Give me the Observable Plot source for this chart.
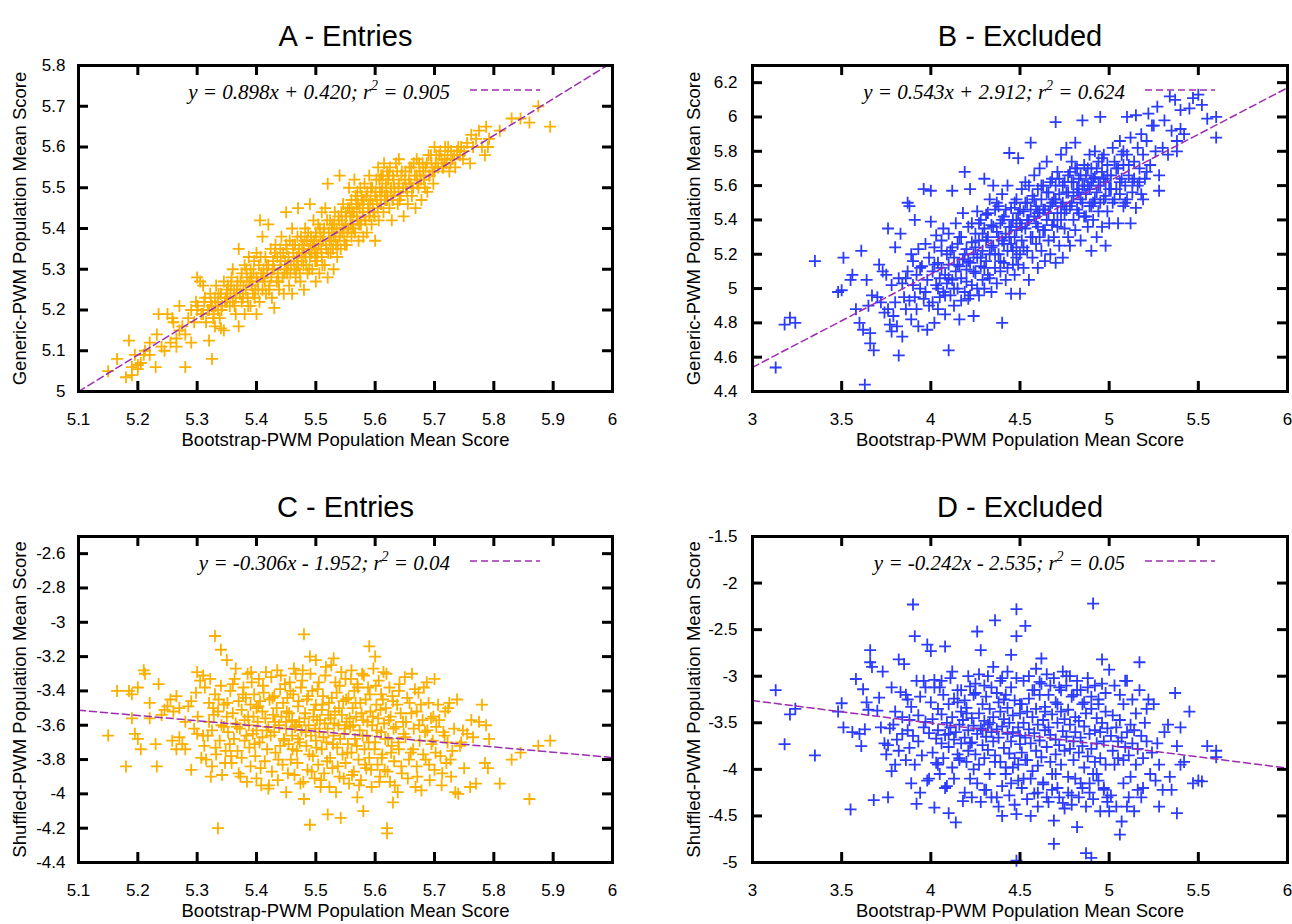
<!DOCTYPE html>
<html><head><meta charset="utf-8">
<script src="https://cdn.jsdelivr.net/npm/d3@7"></script>
<script src="https://cdn.jsdelivr.net/npm/@observablehq/plot@0.6"></script>
<style>
body{margin:0;background:#fff;}
#wrap{position:relative;width:1292px;height:924px;overflow:hidden;background:#fff;}
</style></head><body><div id="wrap"></div>
<script>
const titles = ["A - Entries", "B - Excluded", "C - Entries", "D - Excluded"];
const xLabel = "Bootstrap-PWM Population Mean Score";
const yLabels = ["Generic-PWM Population Mean Score", "Shuffled-PWM Population Mean Score"];
const entriesXTicks = [5.1, 5.2, 5.3, 5.4, 5.5, 5.6, 5.7, 5.8, 5.9, 6];
const excludedXTicks = [3, 3.5, 4, 4.5, 5, 5.5, 6];
const genericEntriesYTicks = [5, 5.1, 5.2, 5.3, 5.4, 5.5, 5.6, 5.7, 5.8];
const genericExcludedYTicks = [4.4, 4.6, 4.8, 5, 5.2, 5.4, 5.6, 5.8, 6, 6.2];
const shuffledEntriesYTicks = [-4.4, -4.2, -4, -3.8, -3.6, -3.4, -3.2, -3, -2.8, -2.6];
const shuffledExcludedYTicks = [-5, -4.5, -4, -3.5, -3, -2.5, -2, -1.5];
const fitSlopes = [0.898, 0.543, -0.306, -0.242];
const fitIntercepts = [0.420, 2.912, -1.952, -2.535];
const keyEquations = ["y = 0.898x + 0.420", "y = 0.543x + 2.912", "y = -0.306x - 1.952", "y = -0.242x - 2.535"];
const keyR2 = ["0.905", "0.624", "0.04", "0.05"];

// rows: [bootstrap mean, generic mean, shuffled mean]
const entriesPoints = [
[5.15,5.05,-3.66],[5.165,5.08,-3.40],[5.18,5.035,-3.84],[5.185,5.125,-3.40],[5.19,5.04,-3.56],[5.19,5.06,-3.42],[5.195,5.09,-3.65],[5.2,5.065,-3.38],[5.2,5.055,-3.68],[5.205,5.07,-3.74],[5.21,5.09,-3.28],[5.212,5.1,-3.30],[5.22,5.09,-3.47],[5.22,5.12,-3.56],[5.23,5.06,-3.71],[5.232,5.14,-3.84],[5.235,5.19,-3.36],[5.24,5.11,-3.54],[5.245,5.1,-3.51],[5.25,5.19,-3.49],[5.255,5.12,-3.45],[5.258,5.18,-3.69],
[5.26,5.17,-3.52],[5.265,5.13,-3.43],[5.265,5.11,-3.74],[5.27,5.15,-3.67],[5.27,5.21,-3.50],[5.275,5.16,-3.71],[5.28,5.06,-3.74],[5.28,5.14,-3.58],[5.285,5.18,-3.49],[5.29,5.12,-3.86],[5.29,5.2,-3.46],[5.295,5.17,-3.62],[5.298,5.22,-3.41],[5.3,5.2,-3.29],[5.3,5.28,-3.65],
[5.305,5.27,-3.34],[5.31,5.26,-3.31],[5.31,5.19,-3.66],[5.312,5.22,-3.72],[5.315,5.17,-3.80],[5.32,5.125,-3.47],[5.32,5.2,-3.58],[5.322,5.24,-3.33],[5.325,5.08,-3.84],[5.325,5.21,-3.63],[5.328,5.19,-3.54],[5.33,5.16,-3.42],[5.33,5.23,-3.08],[5.332,5.26,-3.77],[5.335,5.2,-4.2],[5.335,5.22,-3.52],[5.338,5.18,-3.69],[5.34,5.155,-3.16],[5.34,5.24,-3.37],[5.342,5.21,-3.89],[5.345,5.15,-3.61],[5.345,5.27,-3.48],[5.348,5.23,-3.75],[5.35,5.22,-3.22],[5.35,5.25,-3.55],
[5.352,5.26,-3.64],[5.355,5.21,-3.71],[5.356,5.24,-3.40],[5.358,5.28,-3.82],[5.36,5.22,-3.53],[5.36,5.3,-3.36],[5.362,5.25,-3.68],[5.365,5.23,-3.27],[5.365,5.19,-3.59],[5.368,5.27,-3.75],[5.37,5.16,-3.88],[5.37,5.35,-3.46],[5.372,5.24,-3.62],[5.375,5.29,-3.51],[5.375,5.22,-3.79],[5.378,5.26,-3.38],[5.38,5.19,-3.57],[5.38,5.31,-3.69],[5.382,5.25,-3.44],[5.384,5.28,-3.93],[5.385,5.23,-3.30],[5.387,5.33,-3.60],[5.388,5.27,-3.73],[5.39,5.21,-3.48],[5.39,5.3,-3.84],[5.392,5.26,-3.35],[5.394,5.24,-3.65],[5.395,5.29,-3.55],[5.396,5.32,-3.42],[5.398,5.25,-3.78],[5.4,5.19,-3.63],[5.4,5.28,-3.91],[5.4,5.34,-3.50],
[5.402,5.27,-3.58],[5.404,5.31,-3.33],[5.405,5.22,-3.70],[5.406,5.42,-3.46],[5.408,5.29,-3.95],[5.41,5.25,-3.52],[5.41,5.38,-3.67],[5.412,5.3,-3.41],[5.414,5.27,-3.81],[5.415,5.33,-3.56],[5.416,5.24,-3.29],[5.418,5.29,-3.74],[5.42,5.41,-3.61],[5.42,5.31,-3.97],[5.422,5.26,-3.45],[5.424,5.35,-3.66],[5.425,5.28,-3.32],[5.426,5.23,-3.87],[5.428,5.32,-3.54],[5.43,5.205,-3.64],[5.43,5.3,-3.43],[5.432,5.36,-3.76],[5.434,5.27,-3.50],[5.435,5.33,-3.28],[5.436,5.29,-3.92],[5.438,5.25,-3.60],[5.44,5.35,-3.39],[5.44,5.31,-3.72],[5.442,5.38,-3.55],[5.444,5.28,-3.83],[5.445,5.34,-3.47],[5.446,5.24,-3.68],[5.448,5.32,-3.36],[5.45,5.44,-3.58],[5.45,5.3,-3.99],[5.45,5.36,-3.62],
[5.452,5.29,-3.44],[5.454,5.33,-3.71],[5.455,5.26,-3.53],[5.456,5.37,-3.35],[5.458,5.31,-3.80],[5.46,5.4,-3.57],[5.46,5.24,-3.66],[5.462,5.34,-3.42],[5.464,5.3,-3.89],[5.465,5.36,-3.61],[5.466,5.28,-3.30],[5.468,5.33,-3.75],[5.47,5.45,-3.49],[5.47,5.31,-3.68],[5.472,5.35,-3.58],[5.474,5.27,-3.94],[5.475,5.38,-3.38],[5.476,5.32,-3.63],[5.478,5.36,-3.28],[5.48,5.25,-3.07],[5.48,5.34,-4.03],[5.482,5.4,-3.53],[5.484,5.31,-3.72],[5.485,5.37,-3.45],[5.486,5.29,-3.86],[5.488,5.35,-3.60],[5.49,5.46,-3.20],[5.49,5.33,-4.18],[5.492,5.38,-3.66],[5.494,5.3,-3.40],[5.495,5.36,-3.78],[5.496,5.42,-3.55],[5.498,5.34,-3.91],[5.5,5.27,-3.48],[5.5,5.39,-3.22],[5.5,5.35,-3.69],
[5.502,5.32,-3.57],[5.504,5.41,-3.83],[5.505,5.36,-3.35],[5.506,5.29,-3.64],[5.508,5.38,-3.96],[5.51,5.44,-3.51],[5.51,5.33,-3.74],[5.512,5.37,-3.43],[5.514,5.4,-3.88],[5.515,5.31,-3.59],[5.516,5.45,-3.31],[5.518,5.35,-3.70],[5.52,5.51,-3.62],[5.52,5.28,-4.12],[5.522,5.39,-3.47],[5.524,5.42,-3.79],[5.525,5.34,-3.56],[5.526,5.37,-3.25],[5.528,5.41,-3.85],[5.53,5.3,-3.21],[5.53,5.38,-3.66],[5.532,5.44,-3.52],[5.534,5.36,-3.99],[5.535,5.4,-3.41],[5.536,5.33,-3.73],[5.538,5.43,-3.60],[5.54,5.53,-3.37],[5.54,5.38,-3.90],[5.542,5.35,-4.14],[5.544,5.42,-3.54],[5.545,5.39,-3.77],[5.546,5.46,-3.46],[5.548,5.37,-3.65],[5.55,5.41,-3.33],[5.55,5.44,-3.82],
[5.552,5.36,-3.58],[5.554,5.45,-3.71],[5.555,5.4,-3.44],[5.556,5.5,-3.94],[5.558,5.43,-3.61],[5.56,5.38,-3.28],[5.56,5.47,-3.76],[5.562,5.41,-3.50],[5.564,5.44,-3.87],[5.565,5.52,-3.40],[5.566,5.39,-3.68],[5.568,5.46,-3.55],[5.57,5.49,-4.02],[5.57,5.42,-3.36],[5.572,5.37,-3.80],[5.574,5.45,-3.63],[5.575,5.5,-3.47],[5.576,5.41,-3.92],[5.578,5.47,-3.30],[5.58,5.38,-4.10],[5.58,5.44,-3.57],[5.582,5.51,-3.74],[5.584,5.42,-3.45],[5.585,5.48,-3.85],[5.586,5.39,-3.66],[5.588,5.45,-3.38],[5.59,5.53,-3.14],[5.59,5.43,-3.79],[5.592,5.47,-3.52],[5.594,5.41,-3.96],[5.595,5.5,-3.60],[5.597,5.44,-3.27],[5.6,5.37,-3.20],[5.6,5.48,-3.70],
[5.602,5.52,-3.48],[5.604,5.45,-3.83],[5.605,5.55,-3.56],[5.606,5.42,-3.34],[5.608,5.49,-3.90],[5.61,5.53,-3.64],[5.61,5.46,-3.42],[5.612,5.5,-3.77],[5.614,5.44,-3.29],[5.615,5.56,-3.59],[5.616,5.48,-3.86],[5.618,5.51,-3.50],[5.62,5.54,-4.20],[5.62,5.47,-4.23],[5.622,5.52,-3.68],[5.624,5.45,-3.38],[5.625,5.55,-3.93],[5.626,5.49,-3.55],[5.628,5.42,-3.72],[5.63,5.53,-4.05],[5.63,5.47,-3.46],[5.632,5.5,-3.81],[5.635,5.56,-3.61],[5.638,5.46,-3.99],[5.64,5.57,-3.40],[5.64,5.51,-3.74],[5.643,5.48,-3.53],[5.645,5.54,-3.88],[5.648,5.43,-3.65],[5.65,5.52,-3.32],
[5.652,5.5,-3.58],[5.655,5.46,-3.91],[5.658,5.55,-3.47],[5.66,5.51,-3.76],[5.662,5.48,-3.30],[5.665,5.56,-3.62],[5.668,5.45,-3.96],[5.67,5.53,-3.52],[5.67,5.57,-3.84],[5.673,5.5,-3.41],[5.675,5.54,-3.69],[5.678,5.47,-3.98],[5.68,5.56,-3.57],[5.682,5.52,-3.38],[5.685,5.55,-3.80],[5.688,5.49,-3.63],[5.69,5.58,-3.47],[5.692,5.53,-3.92],[5.695,5.56,-3.71],[5.698,5.51,-3.55],[5.7,5.6,-3.33],[5.7,5.54,-3.86],
[5.703,5.58,-3.61],[5.706,5.55,-3.48],[5.71,5.59,-3.78],[5.712,5.57,-3.95],[5.715,5.55,-3.64],[5.718,5.6,-3.52],[5.72,5.56,-3.82],[5.722,5.58,-3.70],[5.725,5.54,-3.47],[5.728,5.59,-3.90],[5.73,5.57,-3.75],[5.735,5.55,-3.99],[5.74,5.6,-4.00],[5.743,5.58,-3.72],[5.748,5.57,-3.63],[5.75,5.59,-3.85],
[5.755,5.61,-3.65],[5.76,5.56,-3.96],[5.762,5.63,-3.57],[5.765,5.6,-3.67],[5.77,5.62,-3.94],[5.775,5.64,-3.58],[5.78,5.6,-3.48],[5.785,5.58,-3.82],[5.787,5.65,-3.60],[5.79,5.6,-3.85],[5.792,5.62,-3.68],[5.81,5.64,-3.94],[5.83,5.67,-3.80],[5.845,5.67,-3.76],[5.86,5.66,-4.03],[5.875,5.7,-3.72],[5.895,5.65,-3.69],
[5.351,5.23,-3.47],[5.357,5.26,-3.78],[5.363,5.21,-3.33],[5.367,5.25,-3.61],[5.373,5.27,-3.9],[5.377,5.23,-3.42],[5.383,5.3,-3.66],[5.386,5.21,-3.55],[5.391,5.28,-3.29],[5.397,5.23,-3.71],
[5.403,5.25,-3.49],[5.407,5.33,-3.85],[5.411,5.28,-3.37],[5.417,5.31,-3.63],[5.421,5.25,-3.95],[5.427,5.3,-3.44],[5.431,5.34,-3.58],[5.437,5.27,-3.8],[5.441,5.32,-3.31],[5.447,5.29,-3.69],
[5.451,5.35,-3.52],[5.453,5.31,-3.88],[5.457,5.29,-3.4],[5.461,5.36,-3.74],[5.463,5.32,-3.27],[5.467,5.3,-3.6],[5.469,5.38,-3.82],[5.471,5.34,-3.46],[5.473,5.29,-3.7],[5.477,5.35,-3.34],[5.479,5.31,-3.93],[5.481,5.37,-3.56],[5.483,5.33,-3.64],[5.487,5.39,-3.43],[5.489,5.3,-3.77],[5.491,5.36,-3.3],[5.493,5.34,-3.87],[5.497,5.37,-3.51],[5.499,5.32,-3.62],
[5.501,5.38,-3.73],[5.503,5.34,-3.39],[5.507,5.4,-3.57],[5.509,5.35,-3.92],[5.511,5.31,-3.48],[5.513,5.39,-3.67],[5.517,5.36,-3.26],[5.519,5.42,-3.81],[5.521,5.34,-3.54],[5.523,5.37,-3.96],[5.527,5.4,-3.44],[5.529,5.35,-3.71],[5.531,5.41,-3.59],[5.533,5.38,-3.35],[5.537,5.36,-3.84],[5.539,5.42,-3.5],[5.541,5.39,-3.68],[5.543,5.44,-3.29],[5.547,5.4,-3.91],[5.549,5.36,-3.62],
[5.551,5.43,-3.45],[5.553,5.39,-3.76],[5.557,5.45,-3.56],[5.559,5.41,-3.33],[5.561,5.44,-3.89],[5.563,5.4,-3.6],[5.567,5.48,-3.47],[5.569,5.43,-3.72],[5.571,5.46,-3.38],[5.573,5.41,-3.95],[5.577,5.48,-3.53],[5.579,5.44,-3.66],[5.581,5.47,-3.31],[5.583,5.42,-3.83],[5.587,5.49,-3.58],[5.589,5.46,-3.7],[5.591,5.44,-3.42],[5.593,5.5,-3.86],[5.596,5.46,-3.55],[5.599,5.43,-3.74],
[5.601,5.49,-3.37],[5.603,5.47,-3.63],[5.607,5.52,-3.93],[5.609,5.46,-3.51],[5.611,5.49,-3.79],[5.613,5.53,-3.45],[5.617,5.47,-3.68],[5.619,5.5,-3.3],[5.621,5.48,-3.87],[5.623,5.53,-3.57],[5.627,5.5,-3.76],[5.629,5.47,-3.43],[5.631,5.52,-3.62],[5.633,5.49,-3.95],[5.637,5.54,-3.48],[5.639,5.5,-3.7],[5.641,5.47,-3.36],[5.644,5.53,-3.84],[5.647,5.5,-3.58],
[5.651,5.54,-3.67],[5.654,5.49,-3.44],[5.657,5.52,-3.8],[5.661,5.55,-3.53],[5.664,5.5,-3.74],[5.667,5.53,-3.39],[5.671,5.51,-3.9],[5.674,5.56,-3.6],[5.677,5.52,-3.48],[5.681,5.54,-3.77],[5.684,5.5,-3.64],[5.687,5.56,-3.35],[5.691,5.53,-3.83],[5.694,5.58,-3.56],[5.697,5.54,-3.69],
[5.301,5.21,-3.55],[5.307,5.19,-3.79],[5.313,5.23,-3.38],[5.318,5.2,-3.66],[5.323,5.22,-3.9],[5.327,5.18,-3.5],[5.331,5.21,-3.73],[5.336,5.24,-3.45],[5.341,5.2,-3.6],[5.347,5.22,-3.82],
[5.702,5.56,-3.76],[5.708,5.58,-3.57],[5.713,5.55,-3.88],[5.717,5.57,-3.66],[5.723,5.6,-3.5],[5.727,5.56,-3.8],[5.733,5.58,-3.62],[5.738,5.59,-3.45],[5.745,5.6,-3.7]
];

// rows: [bootstrap mean, generic mean, shuffled mean]
const excludedPoints = [
[3.13,4.54,-3.15],[3.18,4.79,-3.73],[3.21,4.83,-3.41],[3.24,4.8,-3.35],[3.35,5.16,-3.85],[3.48,4.98,-3.38],[3.5,4.99,-3.29],
[3.51,5.18,-3.55],[3.55,5.05,-4.43],[3.56,5.08,-3.6],[3.58,4.88,-3.03],[3.6,4.8,-3.62],[3.61,5.22,-3.75],[3.62,4.76,-3.14],[3.63,4.44,-3.57],[3.64,5.05,-3.28],[3.65,4.9,-3.36],[3.66,4.68,-2.72],[3.66,4.74,-2.85],[3.67,4.96,-2.9],[3.68,4.64,-4.33],[3.7,4.95,-3.37],[3.71,5.14,-3.23],[3.72,4.92,-3.55],[3.73,5.1,-2.95],[3.74,4.86,-3.72],[3.75,5.08,-3.84],
[3.76,5.35,-3.74],[3.76,4.88,-4.3],[3.77,4.79,-3.56],[3.78,4.75,-4.02],[3.78,5.02,-3.12],[3.79,4.84,-3.52],[3.8,5.24,-3.95],[3.8,4.92,-3.38],[3.81,4.78,-3.68],[3.82,4.61,-2.82],[3.82,5.06,-3.8],[3.83,5.32,-3.17],[3.84,4.72,-3.44],[3.84,5.03,-3.62],[3.85,4.95,-2.87],[3.86,4.88,-3.9],[3.87,5.5,-3.25],[3.87,5.1,-3.58],[3.88,5.48,-3.47],[3.88,4.93,-3.77],[3.89,4.82,-3.33],[3.9,5.02,-2.23],[3.9,5.16,-3.64],[3.91,5.4,-2.57],[3.91,4.95,-3.95],[3.92,5.08,-4.37],[3.93,5.23,-3.42],[3.93,4.78,-3.7],[3.94,5.0,-3.22],[3.95,5.13,-3.85],[3.96,5.58,-3.55],[3.96,4.94,-3.05],[3.97,5.26,-3.49],[3.98,5.05,-2.66],[3.98,4.76,-4.12],[3.99,5.18,-3.61],
[4.0,5.57,-2.73],[4.0,5.39,-3.28],[4.01,5.1,-3.82],[4.01,4.92,-3.46],[4.02,4.8,-4.41],[4.02,5.24,-3.04],[4.03,5.02,-3.67],[4.03,5.31,-3.93],[4.04,4.88,-3.35],[4.04,5.15,-3.58],[4.05,5.06,-3.12],[4.05,4.95,-4.05],[4.06,5.28,-3.72],[4.06,5.12,-3.41],[4.07,4.98,-3.88],[4.07,5.35,-3.2],[4.08,5.08,-2.68],[4.08,4.85,-3.63],[4.09,5.2,-3.5],[4.09,5.03,-4.18],[4.1,4.64,-4.47],[4.1,5.14,-3.3],[4.1,5.32,-3.76],[4.11,4.96,-3.55],[4.11,5.22,-3.02],[4.12,5.57,-3.44],[4.12,5.05,-3.98],[4.13,5.18,-3.68],[4.13,4.9,-3.24],[4.14,5.38,-4.57],[4.14,5.1,-3.6],[4.15,5.0,-3.84],[4.15,5.26,-3.15],[4.16,5.13,-3.52],[4.16,4.82,-3.9],[4.17,5.3,-3.38],[4.17,5.06,-3.72],[4.18,5.44,-4.34],[4.18,5.17,-3.47],[4.19,5.68,-3.26],[4.19,4.98,-3.66],[4.2,5.23,-3.92],[4.2,5.11,-3.34],[4.21,4.94,-3.58],[4.21,5.36,-3.8],[4.22,5.58,-3.11],[4.22,5.15,-4.1],[4.23,5.27,-3.45],[4.23,5.02,-3.71],[4.24,4.84,-4.0],[4.24,5.2,-3.53],
[4.25,5.32,-3.18],[4.25,5.09,-3.84],[4.26,5.45,-2.52],[4.26,5.18,-3.62],[4.27,4.96,-3.4],[4.27,5.28,-3.95],[4.28,5.13,-2.72],[4.28,5.4,-3.56],[4.29,5.05,-3.74],[4.29,5.22,-3.3],[4.3,5.64,-3.88],[4.3,5.35,-3.48],[4.3,5.0,-4.22],[4.31,5.16,-3.65],[4.31,5.43,-3.22],[4.32,5.08,-3.79],[4.32,5.3,-3.52],[4.33,5.52,-3.35],[4.33,5.2,-4.05],[4.34,4.98,-3.6],[4.34,5.37,-3.12],[4.35,5.6,-3.7],[4.35,5.25,-3.44],[4.36,5.12,-2.4],[4.36,5.46,-3.85],[4.37,5.03,-3.57],[4.37,5.33,-4.3],[4.38,5.2,-3.28],[4.38,5.48,-3.66],[4.39,5.1,-3.92],[4.39,5.38,-3.38],[4.4,4.8,-4.5],[4.4,5.28,-3.54],[4.4,5.55,-3.02],[4.41,5.15,-3.77],[4.41,5.42,-3.46],[4.42,5.05,-3.2],[4.42,5.32,-3.98],[4.43,5.6,-3.62],[4.43,5.22,-3.34],[4.44,5.79,-3.83],[4.44,5.36,-3.5],[4.45,4.97,-2.77],[4.45,5.26,-3.7],[4.45,5.47,-4.15],[4.46,5.14,-3.42],[4.46,5.4,-3.6],[4.47,5.3,-3.26],[4.47,5.08,-3.88],[4.48,5.52,-2.28],[4.48,5.34,-2.57],[4.48,5.18,-4.48],[4.48,5.24,-4.98],[4.49,5.76,-3.55],[4.49,5.44,-3.95],[4.5,4.97,-3.73],[4.5,5.38,-3.4],[4.5,5.2,-3.64],
[4.51,5.58,-3.3],[4.51,5.28,-3.82],[4.52,5.45,-3.5],[4.52,5.12,-4.1],[4.53,5.35,-2.46],[4.53,5.62,-3.66],[4.54,5.22,-3.38],[4.54,5.5,-3.9],[4.55,5.4,-3.57],[4.55,5.05,-3.24],[4.56,5.85,-4.5],[4.56,5.3,-3.72],[4.57,5.54,-3.44],[4.57,5.18,-4.02],[4.58,5.42,-3.61],[4.58,5.66,-3.15],[4.59,5.26,-3.8],[4.59,5.48,-3.35],[4.6,5.12,-3.96],[4.6,5.58,-3.52],[4.6,5.36,-4.25],[4.61,5.44,-3.69],[4.61,5.7,-3.06],[4.62,5.22,-2.81],[4.62,5.52,-3.87],[4.63,5.34,-3.47],[4.63,5.6,-4.14],[4.64,5.46,-3.58],[4.64,5.16,-3.33],[4.65,5.74,-3.76],[4.65,5.4,-4.3],[4.66,5.28,-3.55],[4.66,5.56,-3.2],[4.67,5.48,-3.92],[4.67,5.2,-3.63],[4.68,5.64,-3.41],[4.68,5.37,-4.05],[4.69,5.52,-4.8],[4.69,5.3,-4.55],[4.7,5.97,-3.68],[4.7,5.15,-3.28],[4.7,5.6,-3.84],[4.71,5.44,-3.5],[4.71,5.68,-4.2],[4.72,5.25,-3.12],[4.72,5.55,-3.74],[4.73,5.4,-3.38],[4.73,5.78,-3.95],[4.74,5.5,-3.59],[4.74,5.18,-4.36],[4.75,5.62,-3.46],[4.75,5.35,-3.8],
[4.76,5.82,-3.0],[4.76,5.46,-3.65],[4.77,5.56,-4.08],[4.77,5.3,-3.36],[4.78,5.25,-3.78],[4.78,5.68,-3.52],[4.79,5.5,-4.28],[4.79,5.74,-3.22],[4.8,5.4,-3.7],[4.8,5.62,-3.9],[4.81,5.85,-3.44],[4.81,5.34,-3.6],[4.82,5.58,-4.62],[4.82,5.7,-3.15],[4.83,5.44,-3.82],[4.83,5.64,-3.48],[4.84,5.52,-4.15],[4.84,5.28,-3.66],[4.85,5.98,-3.3],[4.85,5.6,-3.75],[4.86,5.42,-3.98],[4.86,5.72,-3.54],[4.87,5.55,-4.9],[4.87,5.66,-3.4],[4.88,5.36,-3.86],[4.88,5.6,-3.12],[4.89,5.48,-4.25],[4.89,5.78,-3.62],[4.9,5.22,-4.95],[4.9,5.62,-3.78],[4.9,5.7,-3.35],[4.91,5.5,-2.22],[4.91,5.4,-4.05],[4.92,5.65,-3.58],[4.92,5.8,-3.92],[4.93,5.56,-3.45],[4.93,5.3,-3.72],[4.94,5.74,-4.12],[4.94,5.45,-3.25],[4.95,6.0,-3.6],[4.95,5.6,-3.88],[4.96,5.36,-2.82],[4.96,5.68,-3.5],[4.97,5.52,-4.2],[4.97,5.78,-3.7],[4.98,5.25,-3.38],[4.98,5.62,-3.95],[4.99,5.45,-3.56],[4.99,5.72,-4.3],[5.0,5.58,-2.93],[5.0,5.38,-4.45],
[5.01,5.66,-3.64],[5.02,5.82,-3.8],[5.02,5.5,-3.42],[5.03,5.74,-3.95],[5.04,5.58,-3.55],[5.05,5.38,-3.7],[5.05,5.7,-3.88],[5.06,5.86,-4.7],[5.06,5.55,-3.47],[5.07,5.64,-4.56],[5.07,5.78,-3.66],[5.08,5.48,-3.9],[5.08,5.72,-3.3],[5.09,5.6,-3.76],[5.1,6.0,-3.05],[5.1,5.52,-4.4],[5.1,5.78,-3.6],[5.11,5.66,-3.85],[5.12,5.38,-3.52],[5.12,5.88,-4.08],[5.13,5.62,-3.72],[5.14,5.74,-3.58],[5.15,5.47,-3.95],[5.15,6.01,-3.4],[5.16,5.82,-3.78],[5.16,5.6,-4.22],[5.17,5.7,-2.85],[5.18,5.55,-4.3],[5.18,5.9,-3.64],[5.19,5.78,-3.88],[5.2,5.64,-3.5],[5.21,5.86,-3.7],[5.22,6.02,-3.25],[5.23,5.72,-4.05],[5.24,5.95,-3.82],
[5.25,5.95,-3.3],[5.26,5.8,-4.12],[5.27,6.06,-3.72],[5.28,5.57,-4.4],[5.28,5.66,-3.95],[5.3,5.82,-4.22],[5.31,5.98,-3.6],[5.33,5.78,-3.52],[5.34,6.12,-4.08],[5.35,5.92,-4.22],[5.37,6.1,-3.18],[5.38,5.8,-4.47],[5.38,5.86,-3.75],[5.4,6.04,-3.55],[5.4,5.93,-3.95],[5.42,5.9,-3.92],[5.45,6.05,-3.38],[5.47,6.11,-4.15],[5.5,6.13,-4.12],[5.52,6.07,-4.13],[5.55,5.99,-3.75],[5.6,6.0,-3.8],[5.6,5.88,-3.87],
[4.02,5.14,-3.12],[4.04,5.0,-3.95],[4.06,5.22,-3.05],[4.08,4.96,-4.2],[4.1,5.06,-3.62],[4.12,5.24,-2.95],[4.13,5.0,-4.1],[4.15,5.14,-3.28],[4.16,5.3,-3.88],[4.17,4.93,-3.15],[4.19,5.2,-4.25],[4.2,5.04,-3.4],[4.21,5.16,-3.0],[4.22,4.96,-3.72],[4.23,5.38,-4.3],[4.24,5.1,-3.2],
[4.25,5.24,-3.08],[4.26,5.0,-4.15],[4.27,5.38,-2.98],[4.28,5.18,-4.35],[4.29,5.32,-3.58],[4.3,5.12,-3.1],[4.31,5.28,-4.22],[4.32,5.44,-3.0],[4.33,5.06,-3.5],[4.34,5.24,-4.3],[4.35,5.36,-2.9],[4.36,5.2,-3.92],[4.37,5.5,-3.18],[4.38,5.3,-4.4],[4.39,5.16,-3.05],[4.4,5.4,-4.18],[4.41,5.26,-3.25],[4.42,5.46,-4.05],[4.43,5.12,-2.95],[4.44,5.3,-4.28],[4.45,5.36,-3.12],[4.46,5.22,-3.98],[4.47,5.5,-4.38],[4.48,5.4,-3.02],[4.49,5.14,-4.12],[4.5,5.46,-3.3],
[4.51,5.36,-4.2],[4.52,5.24,-3.05],[4.53,5.5,-3.9],[4.54,5.4,-4.32],[4.55,5.6,-3.0],[4.56,5.46,-4.1],[4.57,5.3,-3.15],[4.58,5.52,-4.26],[4.59,5.38,-2.92],[4.6,5.44,-4.4],[4.61,5.3,-3.2],[4.62,5.6,-3.08],[4.63,5.46,-4.16],[4.64,5.34,-3.38],[4.65,5.56,-2.98],[4.66,5.44,-4.35],[4.67,5.62,-3.1],[4.68,5.5,-4.22],[4.69,5.4,-3.02],[4.7,5.52,-4.05],[4.71,5.36,-3.3],[4.72,5.64,-4.3],[4.73,5.48,-3.15],[4.74,5.6,-2.95],[4.75,5.44,-4.42],
[4.76,5.56,-3.1],[4.77,5.66,-4.25],[4.78,5.48,-3.0],[4.79,5.62,-4.38],[4.8,5.54,-3.2],[4.81,5.7,-4.1],[4.82,5.46,-3.05],[4.83,5.56,-4.3],[4.84,5.66,-3.15],[4.85,5.5,-4.2],[4.86,5.6,-3.28],[4.87,5.42,-4.4],[4.88,5.7,-3.02],[4.89,5.58,-4.15],[4.9,5.48,-3.22],[4.91,5.64,-4.32],[4.92,5.52,-3.1],[4.93,5.7,-4.05],[4.94,5.6,-3.3],[4.95,5.5,-4.45],[4.96,5.76,-3.08],[4.97,5.64,-4.22],[4.98,5.54,-3.18],[4.99,5.66,-4.35],
[5.01,5.58,-4.28],[5.03,5.52,-3.1],[5.04,5.7,-4.4],[5.06,5.62,-3.2],[5.08,5.8,-4.15],[5.09,5.5,-3.05],[5.11,5.72,-4.3],[5.13,5.56,-3.25],[5.14,5.64,-4.45],[5.17,5.62,-3.15],[5.19,5.52,-4.2],[5.21,5.68,-3.35],
[3.86,5.06,-3.2],[3.89,5.2,-4.15],[3.92,4.88,-3.05],[3.94,5.12,-4.25],[3.97,4.98,-3.12],[3.99,4.9,-4.1]
];

const ORANGE = "#fbb000", BLUE = "#2b3cff", PURPLE = "#9e2cb0";
const SANS = "'Liberation Sans', Arial, Helvetica, sans-serif";
const SERIF = "'Liberation Serif', 'Times New Roman', serif";
const W = 646, H = 462, MT = 65, MB = 71;

const plusSymbol = {
  draw(ctx, size) {
    const s = Math.sqrt(size / Math.PI);
    ctx.moveTo(-s, 0); ctx.lineTo(s, 0);
    ctx.moveTo(0, -s); ctx.lineTo(0, s);
  }
};

const panels = [
  {i: 0, points: entriesPoints, col: 1, xDomain: [5.1, 6], yDomain: [5, 5.8], xTicks: entriesXTicks, yTicks: genericEntriesYTicks, color: ORANGE, yLabel: yLabels[0], left: 0, top: 0, ml: 78, mr: 34, pad: 13},
  {i: 1, points: excludedPoints, col: 1, xDomain: [3, 6], yDomain: [4.4, 6.3], xTicks: excludedXTicks, yTicks: genericExcludedYTicks, color: BLUE, yLabel: yLabels[0], left: 646, top: 0, ml: 106, mr: 5, pad: 15},
  {i: 2, points: entriesPoints, col: 2, xDomain: [5.1, 6], yDomain: [-4.4, -2.5], xTicks: entriesXTicks, yTicks: shuffledEntriesYTicks, color: ORANGE, yLabel: yLabels[1], left: 0, top: 471, ml: 78, mr: 34, pad: 13},
  {i: 3, points: excludedPoints, col: 2, xDomain: [3, 6], yDomain: [-5, -1.5], xTicks: excludedXTicks, yTicks: shuffledExcludedYTicks, color: BLUE, yLabel: yLabels[1], left: 646, top: 471, ml: 106, mr: 5, pad: 15}
];

const wrap = document.getElementById("wrap");
for (const p of panels) {
  const fw = W - p.ml - p.mr, fh = H - MT - MB;
  const slope = fitSlopes[p.i], b = fitIntercepts[p.i];
  const fitLine = p.xDomain.map(x => ({x, y: slope * x + b}));
  const tl = 10;
  const svg = Plot.plot({
    width: W, height: H,
    marginLeft: p.ml, marginRight: p.mr, marginTop: MT, marginBottom: MB,
    x: {domain: p.xDomain},
    y: {domain: p.yDomain},
    style: {fontFamily: SANS, background: "white", color: "black"},
    marks: [
      Plot.dot(p.points, {x: d => d[0], y: d => d[p.col], symbol: plusSymbol, r: 6, stroke: p.color, strokeWidth: 1.8, fill: "none"}),
      Plot.line(fitLine, {x: "x", y: "y", stroke: PURPLE, strokeWidth: 1.5, strokeDasharray: "7,4", clip: true}),
      Plot.tickX(p.xTicks, {x: d => d, insetTop: fh - tl, strokeWidth: 3}),
      Plot.tickX(p.xTicks, {x: d => d, insetBottom: fh - tl, strokeWidth: 3}),
      Plot.tickY(p.yTicks, {y: d => d, insetRight: fw - tl, strokeWidth: 3}),
      Plot.tickY(p.yTicks, {y: d => d, insetLeft: fw - tl, strokeWidth: 3}),
      Plot.frame({stroke: "black", strokeWidth: 3}),
      Plot.axisX({ticks: p.xTicks, tickSize: 0, tickPadding: 21, tickFormat: d => String(d), fontSize: 17, fontFamily: SANS, label: null}),
      Plot.axisY({ticks: p.yTicks, tickSize: 0, tickPadding: p.pad, tickFormat: d => String(d), fontSize: 17, fontFamily: SANS, label: null}),
      Plot.text([titles[p.i]], {text: d => d, frameAnchor: "top", textAnchor: "middle", dy: -40, fontSize: 29, fontFamily: SANS}),
      Plot.text([xLabel], {text: d => d, frameAnchor: "bottom", textAnchor: "middle", dy: 54, fontSize: 18.5, fontFamily: SANS}),
      Plot.text([p.yLabel], {text: d => d, frameAnchor: "left", textAnchor: "middle", rotate: -90, dx: -58, fontSize: 18.5, fontFamily: SANS})
    ]
  });
  svg.style.position = "absolute";
  svg.style.left = p.left + "px";
  svg.style.top = p.top + "px";
  // key (legend) for the fitted line
  const right = W - p.mr;
  const g = d3.select(svg).append("g");
  const t = g.append("text")
    .attr("x", right - 162).attr("y", MT + 34)
    .attr("text-anchor", "end")
    .attr("font-family", SERIF).attr("font-style", "italic").attr("font-size", 21)
    .attr("fill", "black");
  t.append("tspan").text(keyEquations[p.i] + "; r");
  t.append("tspan").attr("dy", -9).attr("font-size", 14).text("2");
  t.append("tspan").attr("dy", 9).text(" = " + keyR2[p.i]);
  g.append("line")
    .attr("x1", right - 142).attr("x2", right - 72)
    .attr("y1", MT + 25).attr("y2", MT + 25)
    .attr("stroke", PURPLE).attr("stroke-width", 1.5).attr("stroke-dasharray", "7,4");
  wrap.appendChild(svg);
}
</script>
</body></html>
